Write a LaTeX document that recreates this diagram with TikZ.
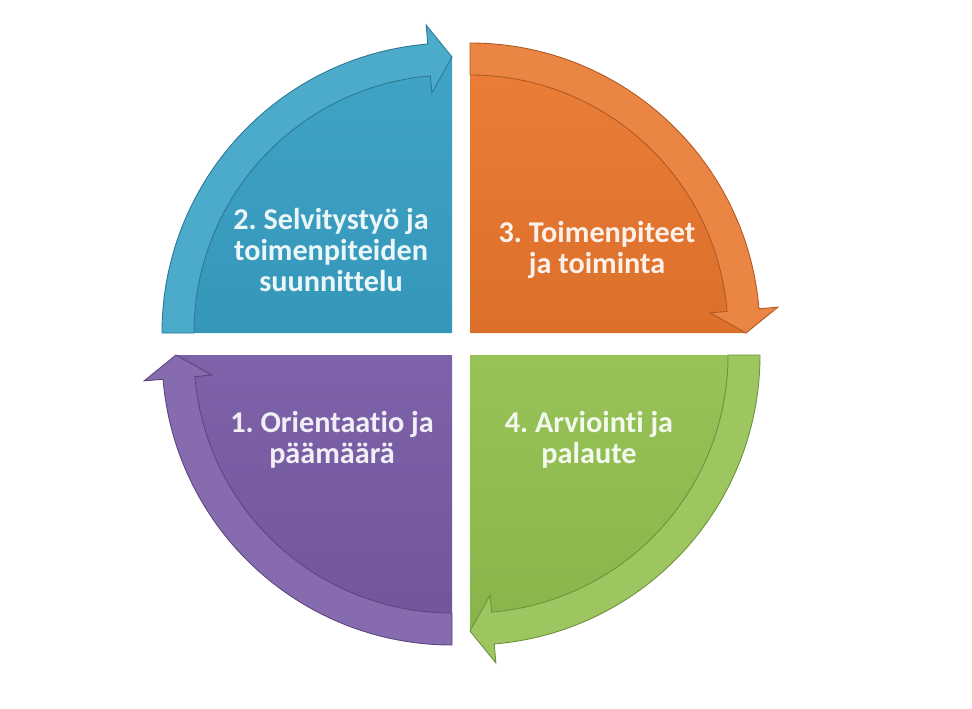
\documentclass[tikz,border=0pt]{standalone}
\usepackage{fontspec}
\setmainfont[Ligatures=NoCommon]{Carlito}
\frenchspacing

\definecolor{quadblue}{RGB}{56,160,196}
\definecolor{quadorange}{RGB}{233,119,46}
\definecolor{quadgreen}{RGB}{146,192,80}
\definecolor{quadpurple}{RGB}{121,92,166}

\begin{document}
\begin{tikzpicture}[
body/.style={top color=#1!96!white, bottom color=#1!94!black},
band/.style={draw=#1!75!black, line width=0.5pt, fill=#1!90!white},
label/.style={align=center, text=white!90!#1, font=\bfseries\fontsize{17.2}{17.4}\selectfont}
]
\useasboundingbox (0,0) rectangle (19.44,14.16);
%Quadrants
\begin{scope}[shift={(9.04,7.50)}]
\shade[body=quadblue] (0,0) -- (180:5.16) arc[start angle=180, end angle=94.8, radius=5.16] -- (90:5.52) -- cycle;
\filldraw[band=quadblue] (180:5.8) arc[start angle=180, end angle=94.8, radius=5.8] -- (94.8:6.18) -- (90:5.52) -- (94.8:4.82) -- (94.8:5.16) arc[start angle=94.8, end angle=180, radius=5.16] -- cycle;
\end{scope}
\begin{scope}[shift={(9.40,7.50)}]
\shade[body=quadorange] (0,0) -- (90:5.16) arc[start angle=90, end angle=4.8, radius=5.16] -- (0:5.52) -- cycle;
\filldraw[band=quadorange] (90:5.8) arc[start angle=90, end angle=4.8, radius=5.8] -- (4.8:6.18) -- (0:5.52) -- (4.8:4.82) -- (4.8:5.16) arc[start angle=4.8, end angle=90, radius=5.16] -- cycle;
\end{scope}
\begin{scope}[shift={(9.40,7.06)}]
\shade[body=quadgreen] (0,0) -- (0:5.16) arc[start angle=0, end angle=-85.2, radius=5.16] -- (-90:5.52) -- cycle;
\filldraw[band=quadgreen] (0:5.8) arc[start angle=0, end angle=-85.2, radius=5.8] -- (-85.2:6.18) -- (-90:5.52) -- (-85.2:4.82) -- (-85.2:5.16) arc[start angle=-85.2, end angle=0, radius=5.16] -- cycle;
\end{scope}
\begin{scope}[shift={(9.04,7.06)}]
\shade[body=quadpurple] (0,0) -- (-90:5.16) arc[start angle=-90, end angle=-175.2, radius=5.16] -- (180:5.52) -- cycle;
\filldraw[band=quadpurple] (-90:5.8) arc[start angle=-90, end angle=-175.2, radius=5.8] -- (-175.2:6.18) -- (180:5.52) -- (-175.2:4.82) -- (-175.2:5.16) arc[start angle=-175.2, end angle=-90, radius=5.16] -- cycle;
\end{scope}
%Labels
\node[label=quadblue]   (plan)   at (6.62,9.16)  {2. Selvitystyö ja\\toimenpiteiden\\suunnittelu};
\node[label=quadorange] (act)    at (11.94,9.16) {3. Toimenpiteet\\ja toiminta};
\node[label=quadpurple] (orient) at (6.64,5.36)  {1. Orientaatio ja\\päämäärä};
\node[label=quadgreen]  (eval)   at (11.78,5.36) {4. Arviointi ja\\palaute};
\end{tikzpicture}
\end{document}
